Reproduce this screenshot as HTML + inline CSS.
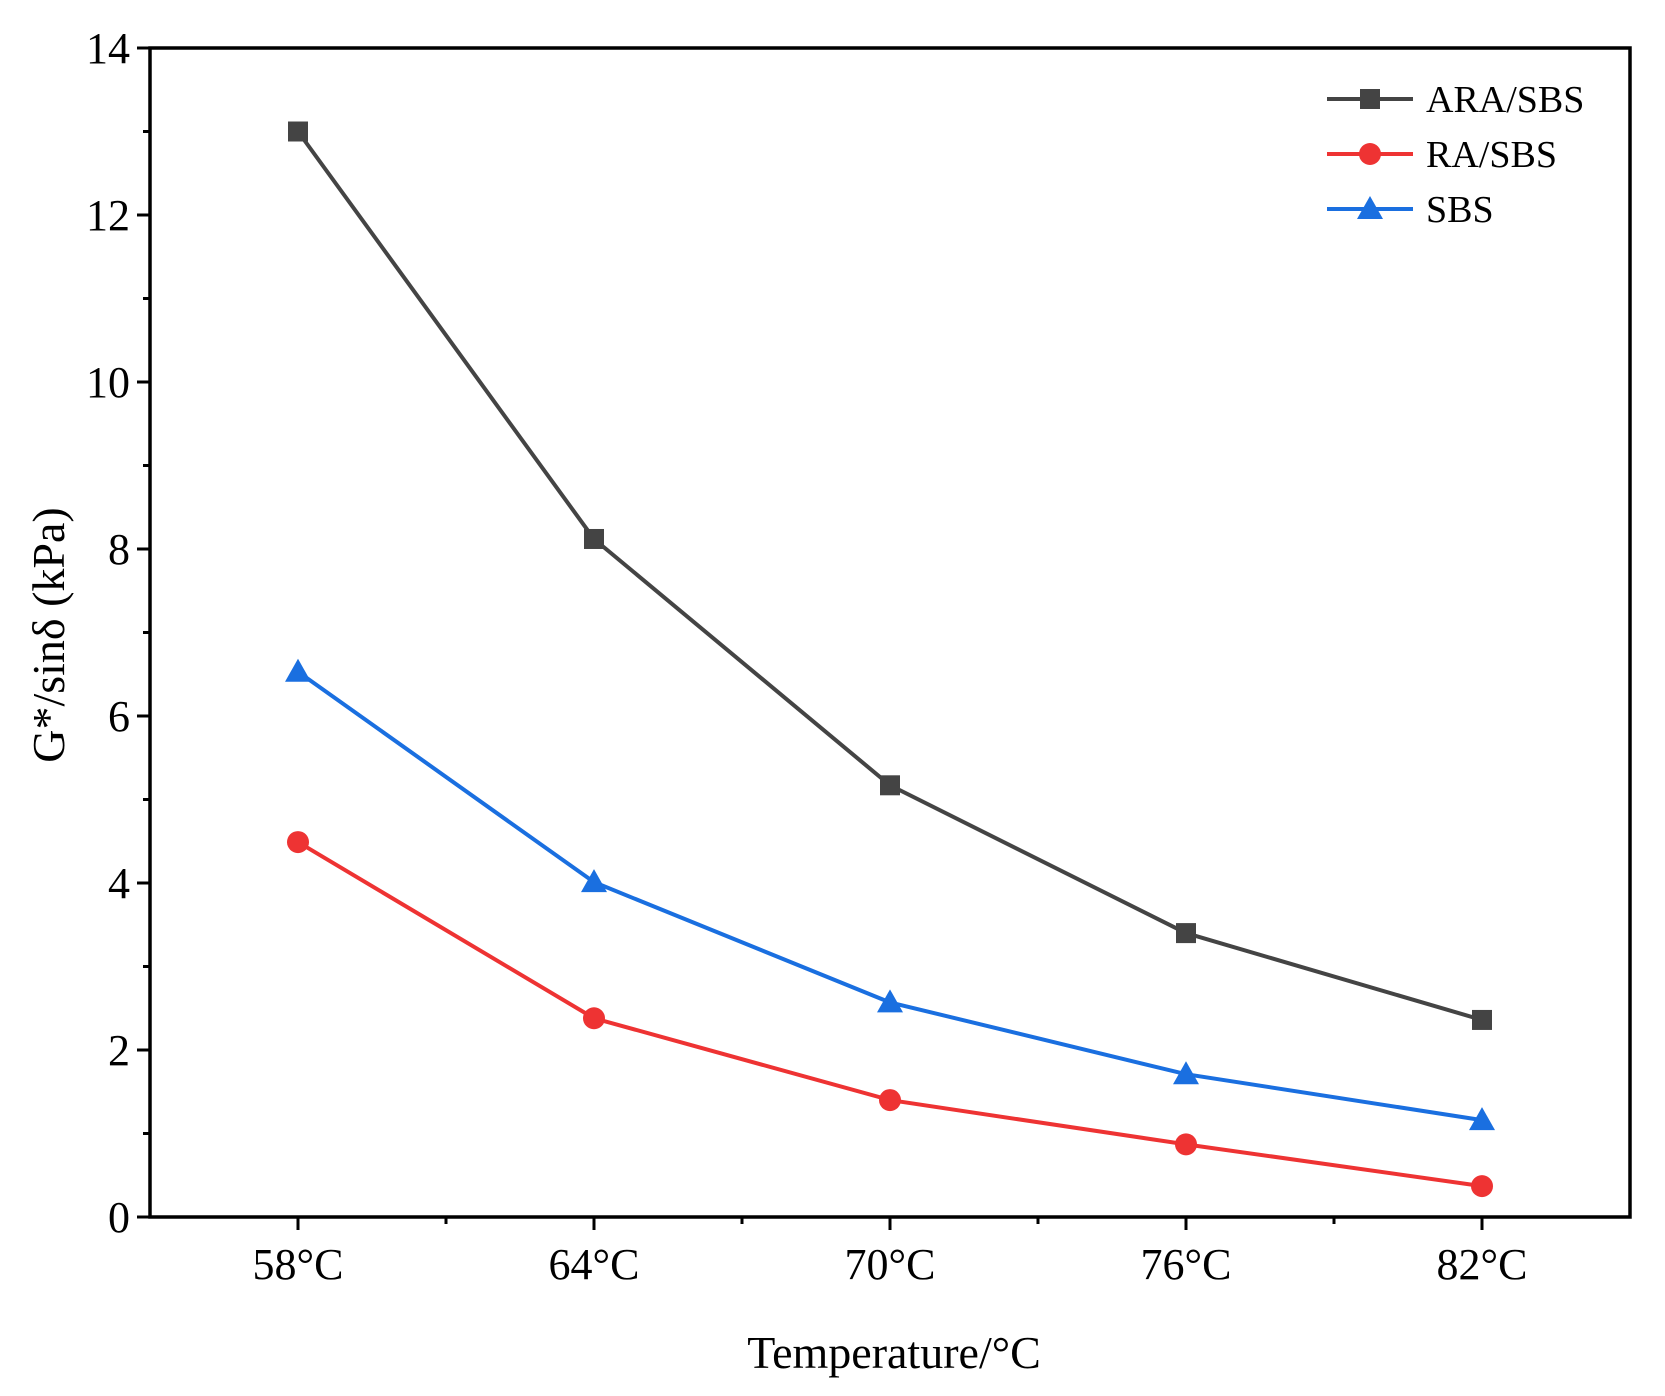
<!DOCTYPE html>
<html><head><meta charset="utf-8"><style>body{margin:0;background:#fff}svg{display:block}</style></head>
<body>
<svg id="chart" width="1665" height="1396" xmlns="http://www.w3.org/2000/svg" font-family="Liberation Serif, serif"></svg>
<script>
const categories = ["58°C","64°C","70°C","76°C","82°C"];
const araSbs = [13.0, 8.12, 5.17, 3.4, 2.36];
const raSbs = [4.49, 2.38, 1.4, 0.87, 0.37];
const sbs = [6.53, 4.01, 2.57, 1.71, 1.16];
const yTicks = [0,2,4,6,8,10,12,14];
const seriesNames = ["ARA/SBS","RA/SBS","SBS"];

const L=150,R=1630,T=48,B=1217;
const x=i=>L+(i+0.5)*(R-L)/categories.length;
const y=v=>B-v*(B-T)/14;
const svg=document.getElementById('chart');
const NS='http://www.w3.org/2000/svg';
function mk(t,a,p){const e=document.createElementNS(NS,t);for(const k in a)e.setAttribute(k,a[k]);(p||svg).appendChild(e);return e;}

yTicks.forEach((v,i)=>{
  const t=mk('line',{x1:L-13,x2:L,y1:y(v),y2:y(v),stroke:'#000','stroke-width':3});
  
  
  const lb=mk('text',{x:L-20,y:y(v)+15,'text-anchor':'end','font-size':44});
  lb.textContent=v;
  
  
  if(i<yTicks.length-1){
    const m=mk('line',{x1:L-7,x2:L,y1:y(v+1),y2:y(v+1),stroke:'#000','stroke-width':3});
    
    
  }
});
categories.forEach((c,i)=>{
  const t=mk('line',{x1:x(i),x2:x(i),y1:B,y2:B+13,stroke:'#000','stroke-width':3});
  
  
  if(i<categories.length-1){
    const m=mk('line',{x1:x(i+0.5),x2:x(i+0.5),y1:B,y2:B+7,stroke:'#000','stroke-width':3});
    
    
  }
  const lb=mk('text',{x:x(i),y:B+62,'text-anchor':'middle','font-size':44});
  lb.textContent=c;
  
  
});

const cols=['#444444','#ee3333','#1a6fe0'];
[araSbs,raSbs,sbs].forEach((d,s)=>{
  const g=mk('g',{});
  
  
  const pl=mk('polyline',{points:d.map((v,i)=>x(i)+','+y(v)).join(' '),fill:'none',stroke:cols[s],'stroke-width':4},g);
  
  
  d.forEach((v,i)=>{
    let m;
    if(s===0)m=mk('rect',{x:x(i)-10,y:y(v)-10,width:20,height:20,fill:cols[s]},g);
    else if(s===1)m=mk('circle',{cx:x(i),cy:y(v),r:11,fill:cols[s]},g);
    else m=mk('polygon',{points:`${x(i)},${y(v)-13} ${x(i)-13},${y(v)+10} ${x(i)+13},${y(v)+10}`,fill:cols[s]},g);
    
    
  });
});

const frame=mk('rect',{x:L,y:T,width:R-L,height:B-T,fill:'none',stroke:'#000','stroke-width':3.5});



seriesNames.forEach((n,s)=>{
  const ly=99+s*55;
  const g=mk('g',{});
  
  
  mk('line',{x1:1327,x2:1413,y1:ly,y2:ly,stroke:cols[s],'stroke-width':4},g);
  const cx=1370;
  if(s===0)mk('rect',{x:cx-10,y:ly-10,width:20,height:20,fill:cols[s]},g);
  else if(s===1)mk('circle',{cx:cx,cy:ly,r:11,fill:cols[s]},g);
  else mk('polygon',{points:`${cx},${ly-13} ${cx-13},${ly+10} ${cx+13},${ly+10}`,fill:cols[s]},g);
  const t=mk('text',{x:1426,y:ly+13,'font-size':38},g);
  t.textContent=n;
});

const xt=mk('text',{x:894,y:1368,'text-anchor':'middle','font-size':46});
xt.textContent='Temperature/°C';


const yt=mk('text',{x:0,y:0,'text-anchor':'middle','font-size':46,transform:'translate(64,635) rotate(-90)'});
yt.textContent='G*/sinδ (kPa)';


</script>
</body></html>
